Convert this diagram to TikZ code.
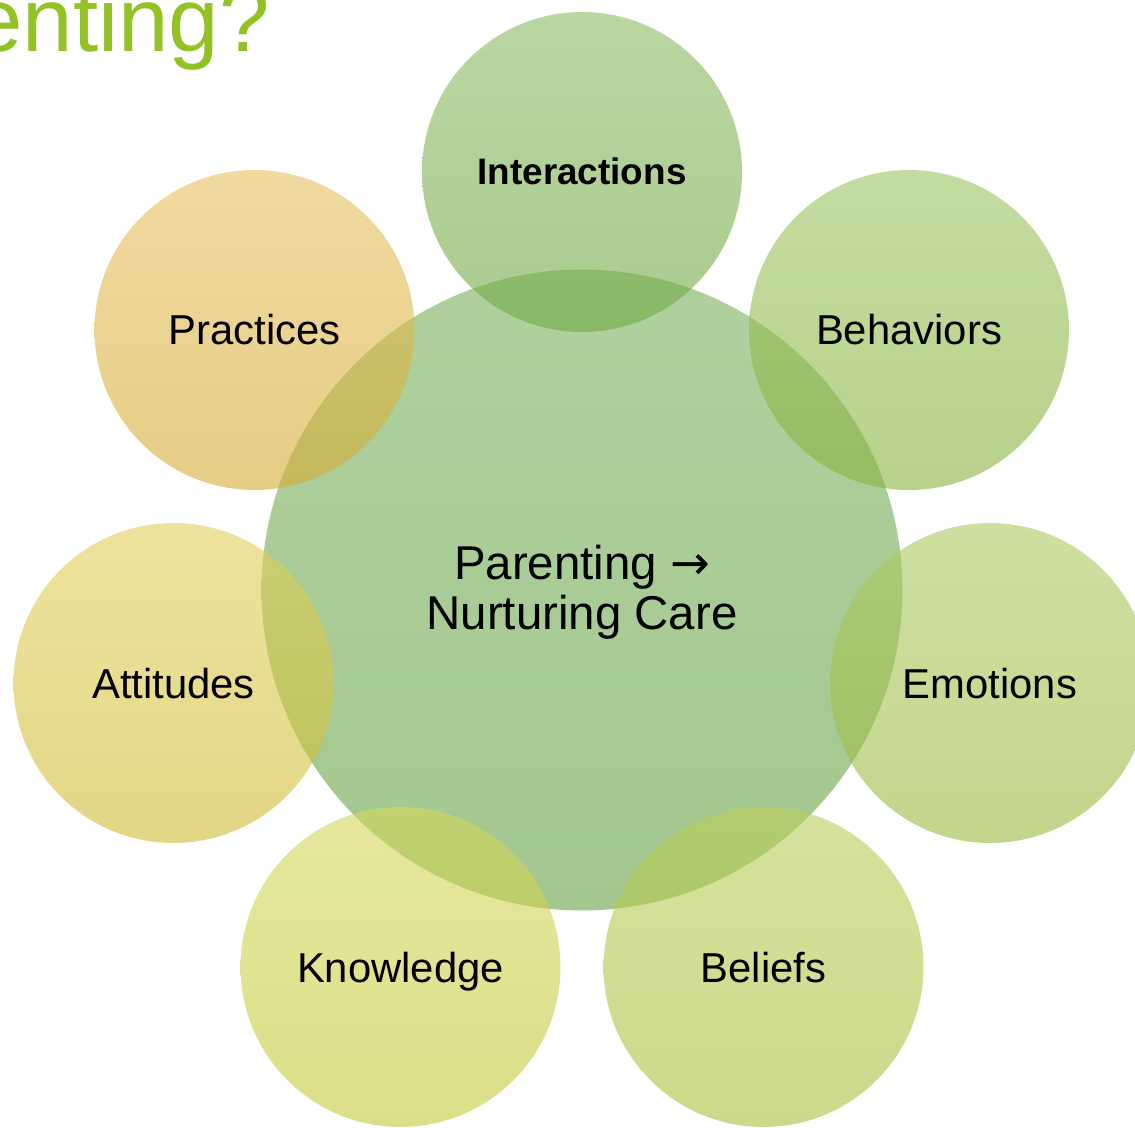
\documentclass[tikz,border=0pt]{standalone}
\usepackage{fontspec}
\setmainfont{Liberation Sans}
\newfontfamily\arrowfont{DejaVu Sans}
\definecolor{ctop}{RGB}{122,178,93}
\definecolor{cbot}{RGB}{102,162,68}
\definecolor{itop}{RGB}{140,188,100}
\definecolor{ibot}{RGB}{112,168,67}
\definecolor{ptop}{RGB}{230,193,95}
\definecolor{pbot}{RGB}{213,172,52}
\definecolor{btop}{RGB}{155,197,97}
\definecolor{bbot}{RGB}{137,178,60}
\definecolor{atop}{RGB}{225,208,92}
\definecolor{abot}{RGB}{208,187,52}
\definecolor{etop}{RGB}{173,203,97}
\definecolor{ebot}{RGB}{155,185,62}
\definecolor{ktop}{RGB}{213,215,92}
\definecolor{kbot}{RGB}{198,200,57}
\definecolor{ltop}{RGB}{187,207,90}
\definecolor{lbot}{RGB}{168,192,60}
\definecolor{titlegreen}{RGB}{146,194,38}
\begin{document}
\begin{tikzpicture}[x=0.02cm,y=0.02cm,
  bubble/.style={circle,inner sep=0pt,outer sep=0pt,minimum size=6.4cm,fill opacity=0.6,draw=none},
  hub/.style={circle,inner sep=0pt,outer sep=0pt,minimum size=12.82cm,fill opacity=0.6,draw=none},
  lbl/.style={anchor=base,inner sep=0pt,font=\fontsize{23.8}{26}\selectfont},
  blbl/.style={anchor=base,inner sep=0pt,font=\fontsize{21}{24}\selectfont\bfseries},
  centertext/.style={align=center,inner sep=0pt,font=\fontsize{27}{28.5}\selectfont}]
\useasboundingbox (0,0) rectangle (1135,1127);
% title fragment
\node[anchor=base east,inner sep=0pt,text=titlegreen,font=\fontsize{51.6}{54}\selectfont] (title) at (270,1075) {enting?};
% hub
\node[hub,top color=ctop,bottom color=cbot] (hub) at (582,537) {};
% satellites
\node[bubble,top color=itop,bottom color=ibot] (inter) at (582,955) {};
\node[bubble,top color=btop,bottom color=bbot] (behav) at (909,797) {};
\node[bubble,top color=etop,bottom color=ebot] (emot) at (990,444) {};
\node[bubble,top color=ltop,bottom color=lbot] (belief) at (763.5,160) {};
\node[bubble,top color=ktop,bottom color=kbot] (know) at (400.5,160) {};
\node[bubble,top color=atop,bottom color=abot] (attit) at (173.5,444) {};
\node[bubble,top color=ptop,bottom color=pbot] (pract) at (254.5,797) {};
% labels
\node[centertext] (hubtext) at (582,535) {Parenting {\arrowfont\fontsize{27}{28.5}\selectfont →}\\Nurturing Care};
\node[blbl] (tinter) at ([yshift=-13*0.02cm]inter.center) {Interactions};
\node[lbl] (tbehav) at ([yshift=-15*0.02cm]behav.center) {Behaviors};
\node[lbl] (temot) at ([yshift=-15*0.02cm]emot.center) {Emotions};
\node[lbl] (tbelief) at ([yshift=-15*0.02cm]belief.center) {Beliefs};
\node[lbl] (tknow) at ([yshift=-15*0.02cm]know.center) {Knowledge};
\node[lbl] (tattit) at ([yshift=-15*0.02cm]attit.center) {Attitudes};
\node[lbl] (tpract) at ([yshift=-15*0.02cm]pract.center) {Practices};
\end{tikzpicture}
\end{document}
